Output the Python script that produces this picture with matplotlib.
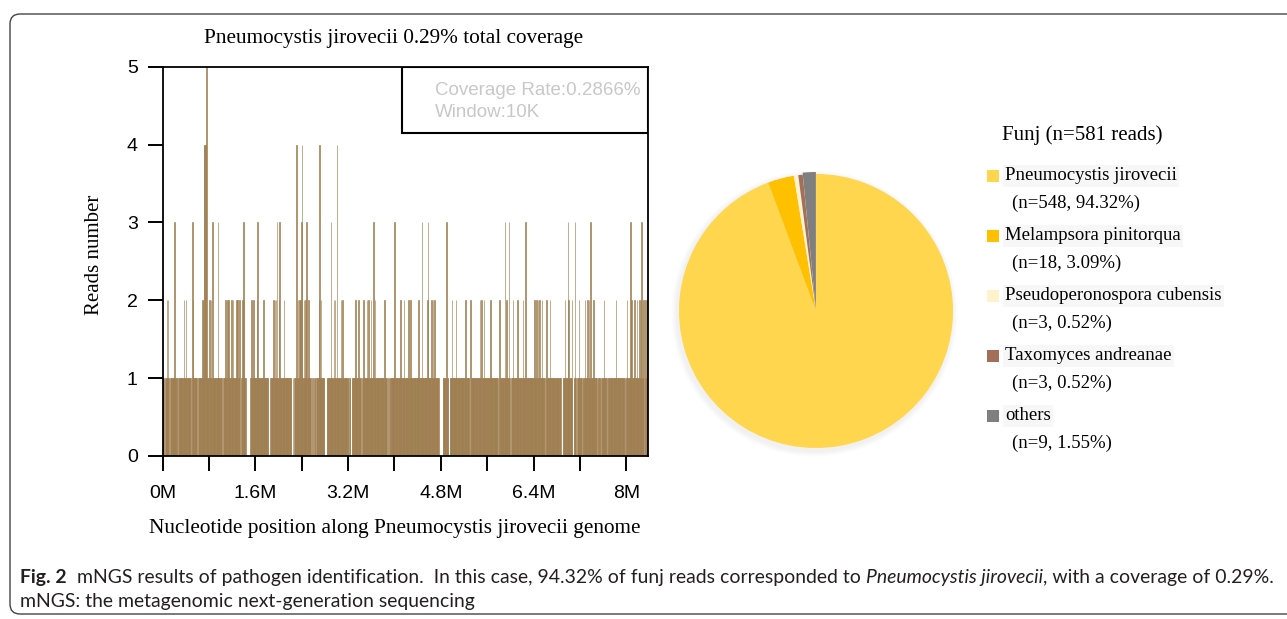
import numpy as np
import matplotlib
matplotlib.use("Agg")
import matplotlib.pyplot as plt
from matplotlib.patches import Rectangle, Circle, PathPatch
from matplotlib.path import Path
from matplotlib.transforms import IdentityTransform

# ──────────────────────────────────────────────
# Data
# ──────────────────────────────────────────────
window_size = 10000          # 10K windows
n_windows = 838              # genome length ~8.38 Mb

# window indices per coverage level (all other windows = 1 read)
zero_windows = [2, 3, 11, 12, 25, 26, 48, 49, 59, 60, 102, 103, 133, 134,
                143, 144, 145, 146, 147, 148, 149, 150, 182, 183, 184, 185,
                222, 223, 225, 226, 256, 257, 259, 260, 263, 264, 279, 280, 281, 282,
                320, 321, 324, 325, 342, 343, 387, 388, 390, 391,
                476, 477, 478, 479, 480, 481, 482, 493, 494, 529, 530, 578, 579,
                599, 600, 659, 660, 687, 688, 689, 707, 708, 713, 714, 723, 724,
                749, 750, 755, 756, 766, 767, 797, 798, 830, 831]
level2_windows = [7, 9, 36, 40, 52, 68, 69, 80, 83, 108, 111, 113, 118, 121, 127, 129,
                  132, 137, 140, 153, 156, 162, 173, 191, 193, 195, 200, 209, 233, 236,
                  237, 243, 246, 251, 269, 273, 295, 297, 307, 310, 332, 337, 346, 352,
                  355, 359, 366, 382, 410, 416, 424, 427, 441, 456, 463, 466, 469, 499,
                  506, 522, 531, 547, 550, 554, 565, 581, 593, 604, 612, 621, 641, 645,
                  647, 650, 654, 662, 668, 694, 700, 706, 718, 728, 733, 735, 743, 761,
                  782, 801, 809, 814, 818, 822, 825, 829, 833, 836]
level3_windows = [20, 51, 85, 95, 139, 163, 197, 201, 239, 248, 290, 363, 400, 447, 457,
                  489, 590, 597, 626, 699, 711, 738, 807, 826]
level4_windows = [71, 72, 73, 230, 240, 270, 300]
level5_windows = [75]

x_tick_pos = [0, 1.6e6, 3.2e6, 4.8e6, 6.4e6, 8.0e6]
x_tick_labels = ["0M", "1.6M", "3.2M", "4.8M", "6.4M", "8M"]
x_minor_pos = [0.8e6, 2.4e6, 4.0e6, 5.6e6, 7.2e6]

pie_labels = ["Pneumocystis jirovecii", "Melampsora pinitorqua",
              "Pseudoperonospora cubensis", "Taxomyces andreanae", "others"]
pie_counts = [548, 18, 3, 3, 9]
pie_pcts = ["94.32%", "3.09%", "0.52%", "0.52%", "1.55%"]
pie_colors = ["#FFD64D", "#FFC000", "#FFF2CC", "#A36F58", "#7F7F7F"]

# build coverage per window
reads = np.ones(n_windows)
reads[zero_windows] = 0
reads[level2_windows] = 2
reads[level3_windows] = 3
reads[level4_windows] = 4
reads[level5_windows] = 5
starts = np.arange(n_windows) * window_size

# ──────────────────────────────────────────────
# Figure
# ──────────────────────────────────────────────
W, H = 1287, 619
fig = plt.figure(figsize=(W / 100, H / 100), dpi=100)

def fx(px):
    return px / W

def fy(py):
    return 1 - py / H

serif = "Liberation Serif"
sans = "Liberation Sans"
bar_color = "#A07F52"

# outer frame: open on the right, rounded corners on the left (pixel coords, y up)
top, bot, left, rc = H - 14, H - 614, 10, 10
frame_path = Path([(W + 20, top), (left + rc, top), (left, top), (left, top - rc),
                   (left, bot + rc), (left, bot), (left + rc, bot), (W + 20, bot)],
                  [Path.MOVETO, Path.LINETO, Path.CURVE3, Path.CURVE3,
                   Path.LINETO, Path.CURVE3, Path.CURVE3, Path.LINETO])
fig.add_artist(PathPatch(frame_path, transform=IdentityTransform(), facecolor="none",
                         edgecolor="#444444", linewidth=1.0))

# --- coverage plot ---
L, R, T, B = 162.7, 648.3, 66.7, 456.0
ax = fig.add_axes([fx(L), fy(B), fx(R - L), (B - T) / H])
ax.bar(starts, reads, width=window_size, align="edge", color=bar_color,
       edgecolor=bar_color, linewidth=0.45)
ax.set_xlim(0, n_windows * window_size)
ax.set_ylim(0, 5)
ax.set_yticks([0, 1, 2, 3, 4, 5])
ax.set_xticks(x_tick_pos)
ax.set_xticklabels(x_tick_labels)
ax.set_xticks(x_minor_pos, minor=True)
ax.tick_params(axis="both", which="both", direction="out", length=11, width=1.4,
               color="black")
ax.tick_params(axis="x", which="major", pad=10)
ax.tick_params(axis="y", which="major", pad=7)
for lab in ax.get_xticklabels() + ax.get_yticklabels():
    lab.set_fontfamily(sans)
    lab.set_fontsize(14)
for sp in ax.spines.values():
    sp.set_linewidth(1.3)
    sp.set_color("black")
    sp.set_zorder(6)

# info box
ax.add_patch(Rectangle((0.4928, 0.8297), 0.5072, 0.1703, transform=ax.transAxes,
                       facecolor="white", edgecolor="black", linewidth=1.5, zorder=5))
ax.text(0.561, 0.9376, "Coverage Rate:0.2866%", transform=ax.transAxes, fontsize=13.5,
        family=sans, color="#C8C8C8", va="center", ha="left", zorder=6)
ax.text(0.561, 0.8836, "Window:10K", transform=ax.transAxes, fontsize=13.5,
        family=sans, color="#C8C8C8", va="center", ha="left", zorder=6)

fig.text(fx(394), fy(39), "Pneumocystis jirovecii 0.29% total coverage", family=serif,
         fontsize=15.3, ha="center", va="center")
fig.text(fx(95), fy(255), "Reads number", family=serif, fontsize=15, rotation=90,
         ha="center", va="center")
fig.text(fx(395), fy(528), "Nucleotide position along Pneumocystis jirovecii genome",
         family=serif, fontsize=15.3, ha="center", va="center")

# --- pie ---
cx, cy, half = 816, 311, 150
axp = fig.add_axes([fx(cx - half), fy(cy + half), fx(2 * half), 2 * half / H])
r_pie = 1.37
for k in range(5, 0, -1):
    axp.add_patch(Circle((-0.015, -0.025), r_pie + 0.012 * k, facecolor="#A0A0A0",
                         edgecolor="none", alpha=0.022, zorder=0))
axp.pie(pie_counts, colors=pie_colors, startangle=90, counterclock=False, radius=r_pie,
        explode=[0, 0, 0, 0, 0.02], wedgeprops=dict(linewidth=0))
axp.set_xlim(-1.5, 1.5)
axp.set_ylim(-1.5, 1.5)
axp.set_aspect("equal")
axp.axis("off")

# --- legend ---
fig.text(fx(1002), fy(135), "Funj (n=581 reads)", family=serif, fontsize=15,
         ha="left", va="center")
for i, (lab, n, pct, col) in enumerate(zip(pie_labels, pie_counts, pie_pcts, pie_colors)):
    y1 = 176 + 60 * i
    y2 = 203 + 60 * i
    fig.add_artist(Rectangle((987, H - y1 - 6), 12, 12, transform=IdentityTransform(),
                             facecolor=col, edgecolor="none"))
    fig.text(fx(1005), fy(y1), lab, family=serif, fontsize=13.5, ha="left", va="center",
             bbox=dict(facecolor="#F7F7F7", edgecolor="none", pad=1.5))
    fig.text(fx(1012), fy(y2), f"(n={n}, {pct})", family=serif, fontsize=13.5,
             ha="left", va="center")

# --- caption ---
cap_font = ["Lato", "DejaVu Sans"]
pieces = [("Fig. 2", "bold", "normal"),
          ("  mNGS results of pathogen identification.  In this case, 94.32% of funj reads corresponded to ",
           "normal", "normal"),
          ("Pneumocystis jirovecii", "normal", "italic"),
          (", with a coverage of 0.29%.", "normal", "normal")]
renderer = fig.canvas.get_renderer()

def caption_line(size):
    out = []
    xpos = 20
    for txt, wt, st in pieces:
        t = fig.text(fx(xpos), fy(577), txt, family=cap_font, fontsize=size,
                     fontweight=wt, fontstyle=st, ha="left", va="center", color="#231F20")
        out.append(t)
        xpos = t.get_window_extent(renderer=renderer).x1
    return out, xpos

texts, x_end = caption_line(12.0)
for t in texts:
    t.remove()
cap_size = 12.0 * (1266 - 20) / (x_end - 20)
caption_line(cap_size)
fig.text(fx(20), fy(601), "mNGS: the metagenomic next-generation sequencing",
         family=cap_font, fontsize=cap_size, ha="left", va="center", color="#231F20")

fig.savefig("out.png", dpi=100)
